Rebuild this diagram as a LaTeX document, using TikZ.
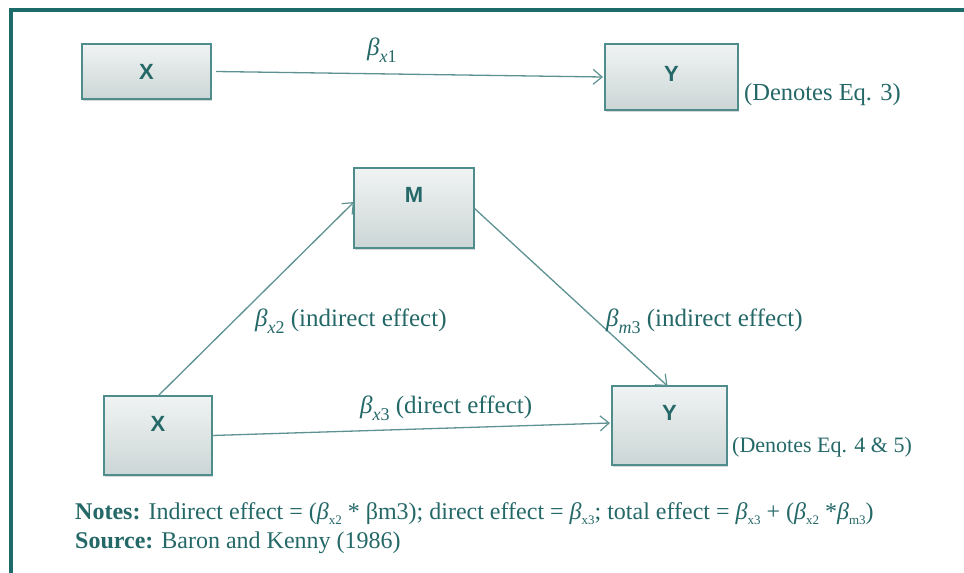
\documentclass[tikz,border=0pt]{standalone}
\usepackage{fontspec}
\setmainfont{Liberation Serif}
\newfontfamily\boxfont{Liberation Sans}
\usetikzlibrary{arrows.meta,shadows}
\definecolor{framecol}{HTML}{1D6A6A}
\definecolor{txtcol}{HTML}{256868}
\definecolor{linecol}{HTML}{5E9292}
\definecolor{boxedge}{HTML}{4F8C8C}
\definecolor{boxtop}{HTML}{F0F3F3}
\definecolor{boxbot}{HTML}{CCD6D6}
% italic beta with a lowered subscript (path coefficients)
\newcommand{\coef}[2]{{\itshape β}\raisebox{-0.28em}{\fontsize{18}{18}\selectfont\itshape #1\upshape #2}}
% small subscript used in the notes line
\newcommand{\nsub}[1]{\raisebox{-0.2em}{\fontsize{13}{13}\selectfont #1}}
\begin{document}
\begin{tikzpicture}[x=1pt,y=-1pt,
  varbox/.style={draw=boxedge, line width=1.8pt, top color=boxtop, bottom color=boxbot,
    inner sep=0pt, outer sep=0pt,
    drop shadow={shadow xshift=1pt, shadow yshift=-2pt, opacity=0.25, fill=black!60}},
  varname/.style={text=txtcol, font=\boxfont\bfseries\fontsize{22}{22}\selectfont, inner sep=0pt},
  pathlabel/.style={text=txtcol, font=\fontsize{25}{29}\selectfont, inner sep=0pt, anchor=west},
  eqnote/.style={text=txtcol, inner sep=0pt, anchor=west},
  effect/.style={draw=linecol, line width=1.3pt, -{Straight Barb[length=9pt,width=15pt,line width=1.2pt]}},
  notetext/.style={text=txtcol, font=\fontsize{24}{28}\selectfont, inner sep=0pt, anchor=west}]
\useasboundingbox (0,0) rectangle (964,573);
\fill[white] (0,0) rectangle (964,573);

% outer frame (top and left rules)
\draw[framecol, line width=4.5pt] (11,573) -- (11,10) -- (964,10);

% simple model
\node[varbox, minimum width=129pt, minimum height=55pt] (x1) at (146.5,71.5) {};
\node[varbox, minimum width=133pt, minimum height=66pt] (y1) at (671.5,77) {};
\node[varname] (x1t) at (146.5,72) {X};
\node[varname] (y1t) at (671.5,74) {Y};
\draw[effect] ([xshift=5pt]x1.east) -- ([xshift=-2pt]y1.west);
\node[pathlabel] (bx1) at (367,50) {\coef{x}{1}};
\node[eqnote, font=\fontsize{24.5}{28}\selectfont] (eq3) at (744,95) {(Denotes Eq. 3)};

% mediation model
\node[varbox, minimum width=120pt, minimum height=80pt] (m) at (414,208) {};
\node[varbox, minimum width=108pt, minimum height=79pt] (x2) at (158,435.5) {};
\node[varbox, minimum width=115pt, minimum height=79pt] (y2) at (669.5,425.5) {};
\node[varname] (mt) at (414,195) {M};
\node[varname] (x2t) at (158,424) {X};
\node[varname] (y2t) at (669.5,413) {Y};

\draw[effect] (x2.north) -- ([yshift=6pt]m.west);
\draw[effect] (m.east) -- ([xshift=-2pt]y2.north);
\draw[effect] (x2.east) -- ([yshift=2.5pt,xshift=-2pt]y2.west);

\node[pathlabel] (bx2) at (255,321) {\coef{x}{2} (indirect effect)};
\node[pathlabel] (bm3) at (606,321) {\coef{m}{3} (indirect effect)};
\node[pathlabel] (bx3) at (360,408) {\coef{x}{3} (direct effect)};
\node[eqnote, font=\fontsize{22}{26}\selectfont] (eq45) at (732,447) {(Denotes Eq. 4 \& 5)};

% notes
\node[notetext] (notes) at (75,514) {\textbf{Notes:} Indirect effect = ({\itshape β}\nsub{x2} * βm3); direct effect = {\itshape β}\nsub{x3}; total effect = {\itshape β}\nsub{x3} + ({\itshape β}\nsub{x2} *{\itshape β}\nsub{m3})};
\node[notetext] (source) at (75,543) {\textbf{Source:} Baron and Kenny (1986)};
\end{tikzpicture}
\end{document}
